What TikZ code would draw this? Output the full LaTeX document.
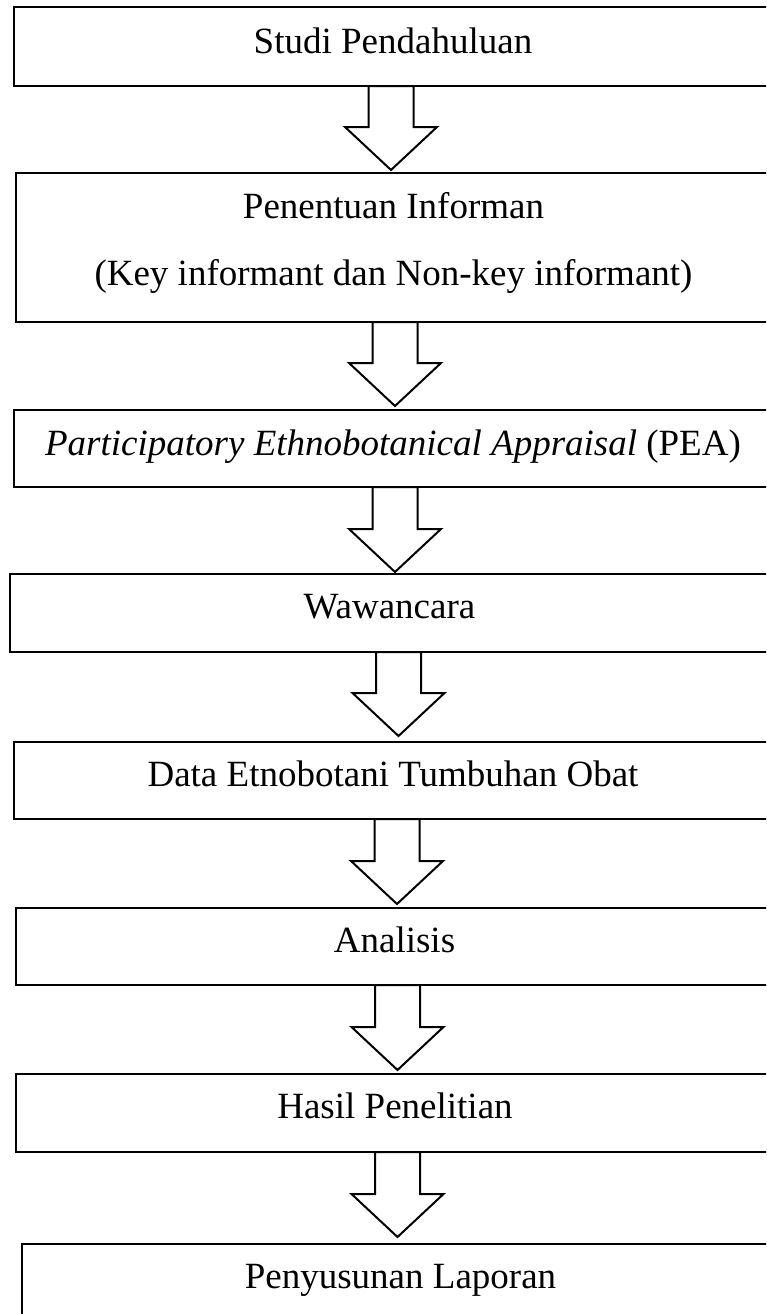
\documentclass[tikz,border=0pt]{standalone}
\usepackage{fontspec}
\setmainfont{Liberation Serif}
\usetikzlibrary{calc}
\tikzset{
  box/.style={draw=black, line width=1.5pt, rectangle, inner sep=0pt, outer sep=0pt, fill=none},
  lbl/.style={anchor=base, inner sep=0pt, font=\fontsize{37}{44}\selectfont},
  blockarrow/.style={draw=black, line width=2pt, fill=white, line join=miter}
}
\newcommand\barrow[2]{%
  \draw[blockarrow] let \p1=#1, \p2=#2 in
    (\x2-22.5pt,\y1) -- (\x2-22.5pt,\y2+43pt) -- (\x2-46pt,\y2+43pt) -- (\x2,\y2)
    -- (\x2+46pt,\y2+43pt) -- (\x2+22.5pt,\y2+43pt) -- (\x2+22.5pt,\y1) -- cycle;}
\begin{document}
\begin{tikzpicture}[x=1pt,y=-1pt]
\useasboundingbox (0,0) rectangle (766,1314);
\fill[white] (0,0) rectangle (766,1314);
\clip (0,0) rectangle (766,1314);
% boxes
\node[box, minimum width=758pt, minimum height=79pt]  (b1) at (393,46.5)   {};
\node[box, minimum width=755pt, minimum height=149pt] (b2) at (393.5,247.5) {};
\node[box, minimum width=758pt, minimum height=77pt]  (b3) at (393,448.5)  {};
\node[box, minimum width=759pt, minimum height=78pt]  (b4) at (389.5,613)  {};
\node[box, minimum width=758pt, minimum height=77pt]  (b5) at (393,780.5)  {};
\node[box, minimum width=757pt, minimum height=77pt]  (b6) at (394.5,946.5) {};
\node[box, minimum width=758pt, minimum height=78pt]  (b7) at (395,1113)   {};
\node[box, minimum width=757pt, minimum height=78pt]  (b8) at (400.5,1283) {};
% texts
\node[lbl] (t1)  at (393,53.3)   {Studi Pendahuluan};
\node[lbl] (t2a) at (393.5,218.3) {Penentuan Informan};
\node[lbl] (t2b) at (393.5,285)  {(Key informant dan Non-key informant)};
\node[lbl] (t3)  at (393,455)    {\textit{Participatory Ethnobotanical Appraisal} (PEA)};
\node[lbl] (t4)  at (389.5,618.3) {Wawancara};
\node[lbl] (t5)  at (393,786.7)  {Data Etnobotani Tumbuhan Obat};
\node[lbl] (t6)  at (394.5,952.7) {Analisis};
\node[lbl] (t7)  at (395,1118.3) {Hasil Penelitian};
\node[lbl] (t8)  at (400.5,1288.3) {Penyusunan Laporan};
% block arrows
\barrow{(b1.south)}{($(b2.north)+(-2.5,-3)$)}
\barrow{(b2.south)}{($(b3.north)+(2,-4)$)}
\barrow{(b3.south)}{($(b4.north)+(5.5,-2)$)}
\barrow{(b4.south)}{($(b5.north)+(5.5,-6)$)}
\barrow{(b5.south)}{($(b6.north)+(2.5,-4)$)}
\barrow{(b6.south)}{($(b7.north)+(2.5,-4)$)}
\barrow{(b7.south)}{($(b8.north)+(-3,-7)$)}
\end{tikzpicture}
\end{document}
